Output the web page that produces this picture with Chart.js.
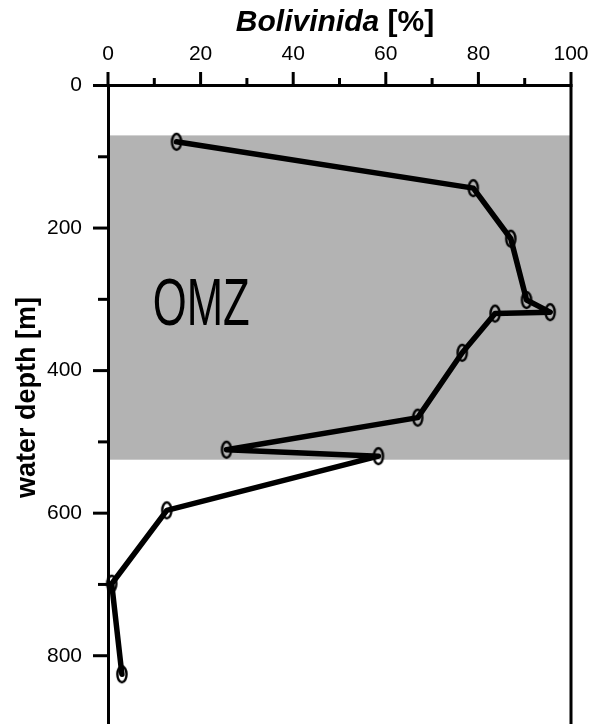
<!DOCTYPE html>
<html>
<head>
<meta charset="utf-8">
<script src="https://cdn.jsdelivr.net/npm/chart.js@4/dist/chart.umd.min.js"></script>
<style>
  html, body { margin: 0; padding: 0; background: #fff; overflow: hidden; }
  #c { display: block; }
</style>
</head>
<body>
<canvas id="c" width="595" height="727"></canvas>
<script>
// ---- data ----
const depth      = [79, 144, 215, 301, 318, 320, 375, 466, 511, 520, 596, 699, 826];
const bolivinida = [14.8, 78.9, 87.0, 90.4, 95.5, 83.6, 76.5, 66.9, 25.6, 58.4, 12.7, 0.8, 3.0];
const xMajorTicks = [0, 20, 40, 60, 80, 100];
const xMinorTicks = [10, 30, 50, 70, 90];
const yMajorTicks = [0, 200, 400, 600, 800];
const yMinorTicks = [100, 300, 500, 700];
const omzDepth = [70, 525];
const omzPct = [0, 100];
const xTitleItalic = 'Bolivinida';
const xTitleRest = ' [%]';
const yTitle = 'water depth [m]';
const omzLabel = 'OMZ';

const FONT = "'Liberation Sans', Arial, Helvetica, sans-serif";

// open ellipse marker
const marker = document.createElement('canvas');
marker.width = 16; marker.height = 24;
(function(){
  const g = marker.getContext('2d');
  g.lineWidth = 2.4;
  g.strokeStyle = '#000';
  g.beginPath();
  g.ellipse(8, 12, 4.6, 8, 0, 0, Math.PI * 2);
  g.stroke();
})();

const decor = {
  id: 'decor',
  beforeDraw(chart) {
    const {ctx, scales: {x, y}} = chart;
    ctx.save();
    ctx.fillStyle = '#b3b3b3';
    const x0 = x.getPixelForValue(omzPct[0]), x1 = x.getPixelForValue(omzPct[1]);
    const y0 = y.getPixelForValue(omzDepth[0]), y1 = y.getPixelForValue(omzDepth[1]);
    ctx.fillRect(x0, y0, x1 - x0, y1 - y0);
    ctx.restore();
  },
  afterDraw(chart) {
    const {ctx, chartArea: a, scales: {x, y}} = chart;
    ctx.save();
    ctx.strokeStyle = '#000';
    ctx.lineWidth = 3;
    ctx.lineCap = 'butt';
    // right frame line
    ctx.beginPath();
    ctx.moveTo(a.right, a.top - 1.5);
    ctx.lineTo(a.right, a.bottom + 5);
    ctx.stroke();
    // x ticks (top, outward)
    const tickX = (v, len) => {
      const px = x.getPixelForValue(v);
      ctx.beginPath(); ctx.moveTo(px, a.top + 1.5); ctx.lineTo(px, a.top - len); ctx.stroke();
    };
    xMajorTicks.forEach(v => tickX(v, 13.5));
    xMinorTicks.forEach(v => tickX(v, 7.5));
    // y ticks (left, outward)
    const tickY = (v, len) => {
      const py = y.getPixelForValue(v);
      ctx.beginPath(); ctx.moveTo(a.left + 1.5, py); ctx.lineTo(a.left - len, py); ctx.stroke();
    };
    yMajorTicks.forEach(v => tickY(v, 15));
    yMinorTicks.forEach(v => tickY(v, 10));

    // x title
    ctx.fillStyle = '#000';
    ctx.textBaseline = 'alphabetic';
    ctx.textAlign = 'left';
    const fIt = "italic bold 30px " + FONT, fB = "bold 30px " + FONT;
    ctx.font = fIt; const w1 = ctx.measureText(xTitleItalic).width;
    ctx.font = fB; const w2 = ctx.measureText(xTitleRest).width;
    const cx = 335;
    const sx = cx - (w1 + w2) / 2;
    ctx.font = fIt; ctx.fillText(xTitleItalic, sx, 30.5);
    ctx.font = fB; ctx.fillText(xTitleRest, sx + w1, 30.5);

    // y title
    ctx.save();
    ctx.translate(35, 397.5);
    ctx.rotate(-Math.PI / 2);
    ctx.textAlign = 'center';
    ctx.font = "bold 27px " + FONT;
    ctx.fillText(yTitle, 0, 0);
    ctx.restore();

    // OMZ label (condensed)
    ctx.save();
    ctx.font = "67px " + FONT;
    const wo = ctx.measureText(omzLabel).width;
    const target = 97;
    ctx.translate(152.7, 325);
    ctx.scale(target / wo, 1);
    ctx.textAlign = 'left';
    ctx.fillText(omzLabel, 0, 0);
    ctx.restore();

    ctx.restore();
  }
};

const zeroPad = s => { s.paddingTop = 0; s.paddingBottom = 0; s.paddingLeft = 0; s.paddingRight = 0; };

new Chart(document.getElementById('c'), {
  type: 'line',
  data: {
    datasets: [{
      data: depth.map((d, i) => ({x: bolivinida[i], y: d})),
      borderColor: '#000',
      borderWidth: 5.5,
      borderJoinStyle: 'round',
      borderCapStyle: 'round',
      tension: 0,
      fill: false,
      pointStyle: marker,
      pointRadius: 8,
      clip: false
    }]
  },
  options: {
    responsive: false,
    animation: false,
    devicePixelRatio: 1,
    events: [],
    layout: { autoPadding: false, padding: { left: 0, right: 24, top: 0, bottom: 0 } },
    plugins: { legend: { display: false }, tooltip: { enabled: false }, title: { display: false } },
    scales: {
      x: {
        type: 'linear',
        position: 'top',
        min: 0, max: 100,
        afterBuildTicks: s => { s.ticks = xMajorTicks.map(v => ({value: v})); },
        afterFit: s => { s.height = 85.5; zeroPad(s); },
        grid: { display: false, drawTicks: false },
        border: { display: true, color: '#000', width: 3 },
        ticks: { color: '#000', font: { family: FONT, size: 21 }, padding: 19, maxRotation: 0, autoSkip: false }
      },
      y: {
        type: 'linear',
        position: 'left',
        reverse: true,
        min: 0, max: 900,
        afterBuildTicks: s => { s.ticks = yMajorTicks.map(v => ({value: v})); },
        afterFit: s => { s.width = 108; zeroPad(s); },
        grid: { display: false, drawTicks: false },
        border: { display: true, color: '#000', width: 3 },
        ticks: { color: '#000', font: { family: FONT, size: 21 }, padding: 26, autoSkip: false }
      }
    }
  },
  plugins: [decor]
});
</script>
</body>
</html>
